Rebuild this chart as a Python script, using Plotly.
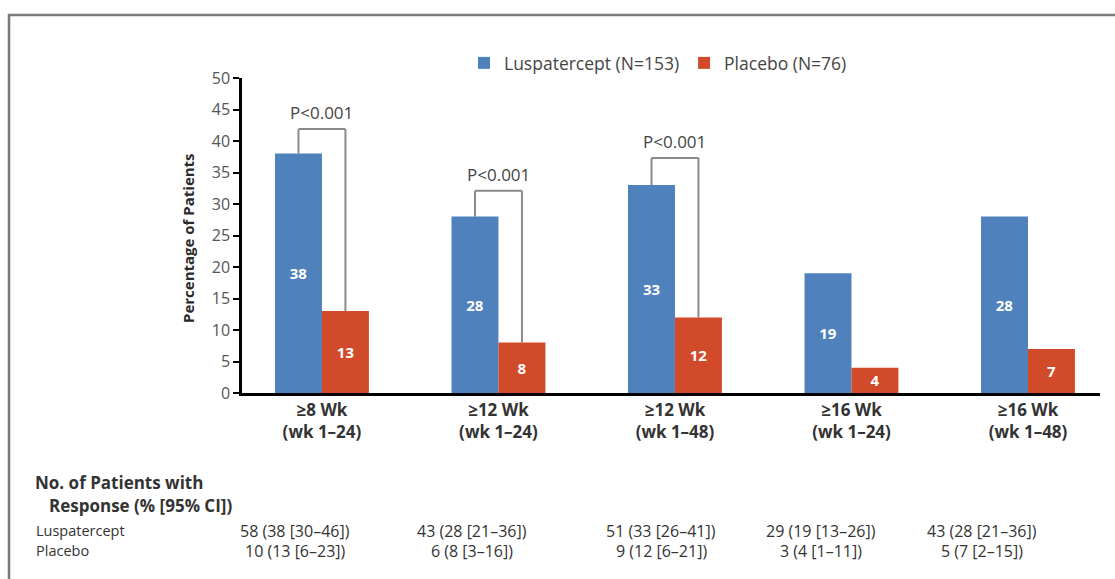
import plotly.graph_objects as go

# Response endpoints and results
categories = ["≥8 Wk<br>(wk 1–24)", "≥12 Wk<br>(wk 1–24)", "≥12 Wk<br>(wk 1–48)",
              "≥16 Wk<br>(wk 1–24)", "≥16 Wk<br>(wk 1–48)"]
luspatercept = [38, 28, 33, 19, 28]
placebo = [13, 8, 12, 4, 7]

# Comparison brackets: (category index, bracket top, label)
brackets = [(0, 41.9, "P<0.001"), (1, 32.1, "P<0.001"), (2, 37.3, "P<0.001")]

# Table of responders below the chart
table_lusp = ["58 (38 [30–46])", "43 (28 [21–36])", "51 (33 [26–41])",
              "29 (19 [13–26])", "43 (28 [21–36])"]
table_plac = ["10 (13 [6–23])", "6 (8 [3–16])", "9 (12 [6–21])",
              "3 (4 [1–11])", "5 (7 [2–15])"]

BLUE = "#4f81bd"
RED = "#d14b2a"
FONT = "Open Sans"
TXT = "#333333"

W, H = 1115, 579
L, R, T, B = 242, 15, 78, 186
PW, PH = W - L - R, H - T - B
OFF = 0.133
BW = 0.266


def px(xp):
    return (xp - L) / PW


def py(yp):
    return (H - B - yp) / PH


xs = list(range(len(categories)))
fig = go.Figure()
fig.add_trace(go.Bar(
    x=[i - OFF for i in xs], y=luspatercept, width=BW, name="Luspatercept (N=153)",
    marker=dict(color=BLUE, line=dict(width=0)),
    text=luspatercept, texttemplate="<b>%{y}</b>", textposition="inside",
    insidetextanchor="middle", textangle=0, constraintext="none",
    textfont=dict(color="white", size=15, family=FONT),
    hoverinfo="skip"))
fig.add_trace(go.Bar(
    x=[i + OFF for i in xs], y=placebo, width=BW, name="Placebo (N=76)",
    marker=dict(color=RED, line=dict(width=0)),
    text=placebo, texttemplate="<b>%{y}</b>", textposition="inside",
    insidetextanchor="middle", textangle=0, constraintext="none",
    textfont=dict(color="white", size=15, family=FONT),
    hoverinfo="skip"))

shapes = []
annotations = []
for idx, top, label in brackets:
    xl, xr = idx - OFF, idx + OFF
    line = dict(color="#8a8a8a", width=2)
    shapes.append(dict(type="line", xref="x", yref="y", x0=xl, x1=xl,
                       y0=luspatercept[idx], y1=top, line=line))
    shapes.append(dict(type="line", xref="x", yref="y", x0=xl, x1=xr,
                       y0=top, y1=top, line=line))
    shapes.append(dict(type="line", xref="x", yref="y", x0=xr, x1=xr,
                       y0=top, y1=placebo[idx], line=line))
    annotations.append(dict(x=idx, y=top, xref="x", yref="y", text=label,
                            showarrow=False, yanchor="bottom", yshift=3,
                            font=dict(family=FONT, size=17, color="#444444")))

# outer frame
shapes.append(dict(type="rect", xref="paper", yref="paper",
                   x0=px(9), x1=px(1130), y0=py(15), y1=py(600),
                   line=dict(color="#7a7a7a", width=2.5), layer="below"))

# y-axis title
annotations.append(dict(x=px(176), y=py(238), xref="paper", yref="paper",
                        text="<b>Percentage of Patients</b>", textangle=-90,
                        showarrow=False, font=dict(family=FONT, size=15, color="#2a2a2a")))

# table header and row labels
ROW_SHIFT = 11
annotations.append(dict(x=px(33), y=py(485 + ROW_SHIFT), xref="paper", yref="paper",
                        text="<b>No. of Patients with</b>", showarrow=False,
                        xanchor="left", font=dict(family=FONT, size=17, color=TXT)))
annotations.append(dict(x=px(47), y=py(508 + ROW_SHIFT), xref="paper", yref="paper",
                        text="<b>Response (% [95% CI])</b>", showarrow=False,
                        xanchor="left", font=dict(family=FONT, size=17, color=TXT)))
annotations.append(dict(x=px(34), y=py(531 + ROW_SHIFT), xref="paper", yref="paper",
                        text="Luspatercept", showarrow=False,
                        xanchor="left", font=dict(family=FONT, size=14.5, color=TXT)))
annotations.append(dict(x=px(34), y=py(551 + ROW_SHIFT), xref="paper", yref="paper",
                        text="Placebo", showarrow=False,
                        xanchor="left", font=dict(family=FONT, size=14.5, color=TXT)))

col_centers = [295, 472, 661, 821, 982]
for cx, a, b in zip(col_centers, table_lusp, table_plac):
    annotations.append(dict(x=px(cx), y=py(533 + ROW_SHIFT), xref="paper", yref="paper",
                            text=a, showarrow=False, xanchor="center",
                            font=dict(family=FONT, size=16, color=TXT)))
    annotations.append(dict(x=px(cx), y=py(553 + ROW_SHIFT), xref="paper", yref="paper",
                            text=b, showarrow=False, xanchor="center",
                            font=dict(family=FONT, size=16, color=TXT)))

fig.update_layout(
    width=W, height=H,
    margin=dict(l=L, r=R, t=T, b=B),
    paper_bgcolor="white", plot_bgcolor="white",
    font=dict(family=FONT, color=TXT),
    barmode="overlay",
    showlegend=True,
    legend=dict(orientation="h", x=px(464), y=py(63), xanchor="left", yanchor="middle",
                font=dict(family=FONT, size=17.5, color="#444444"),
                bgcolor="rgba(0,0,0,0)", itemclick=False),
    shapes=shapes, annotations=annotations,
    xaxis=dict(range=[-0.453, 4.408], tickvals=xs,
               ticktext=["<b>" + c + "</b>" for c in categories],
               showline=True, linecolor="black", linewidth=2.5, ticks="",
               showgrid=False, zeroline=False, fixedrange=True,
               tickfont=dict(family=FONT, size=17, color=TXT)),
    yaxis=dict(range=[0, 50], tickvals=list(range(0, 51, 5)),
               showline=True, linecolor="black", linewidth=2.5,
               ticks="outside", ticklen=6, tickwidth=2, tickcolor="black",
               showgrid=False, zeroline=False, fixedrange=True,
               tickfont=dict(family=FONT, size=16, color="#555555")),
)

fig.write_html("out.html")
